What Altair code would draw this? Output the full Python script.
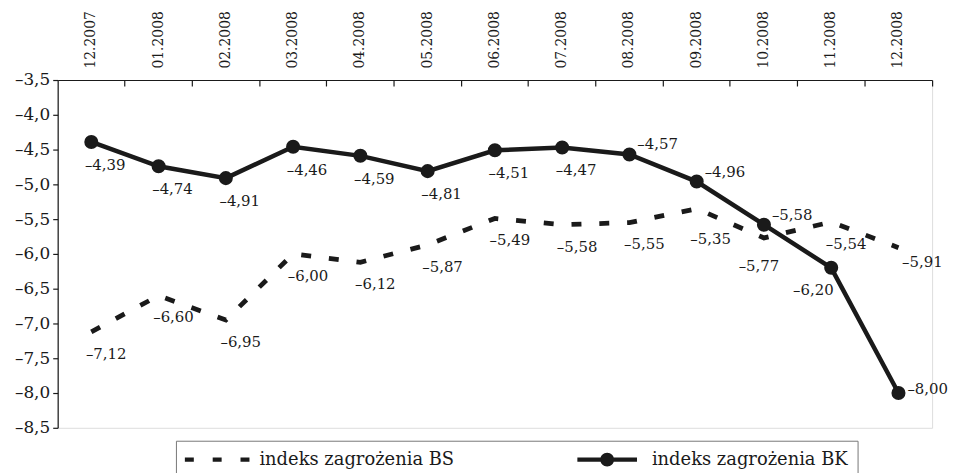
import altair as alt
import pandas as pd

months = ["12.2007", "01.2008", "02.2008", "03.2008", "04.2008", "05.2008", "06.2008",
          "07.2008", "08.2008", "09.2008", "10.2008", "11.2008", "12.2008"]
bs_values = [-7.12, -6.60, -6.95, -6.00, -6.12, -5.87, -5.49, -5.58, -5.55, -5.35, -5.77, -5.54, -5.91]
bk_values = [-4.39, -4.74, -4.91, -4.46, -4.59, -4.81, -4.51, -4.47, -4.57, -4.96, -5.58, -6.20, -8.00]
series_names = ["indeks zagrożenia BS", "indeks zagrożenia BK"]
y_ticks = [-3.5, -4.0, -4.5, -5.0, -5.5, -6.0, -6.5, -7.0, -7.5, -8.0, -8.5]


def fmt(v):
    return "–" + f"{abs(v):.2f}".replace(".", ",")


rows = []
for name, vals in zip(series_names, [bs_values, bk_values]):
    for m, v in zip(months, vals):
        rows.append({"month": m, "value": v, "series": name, "label": fmt(v)})
df = pd.DataFrame(rows)

FONT = "DejaVu Serif"
INK = "#1a1a1a"
W, H = 880, 350
BS, BK = series_names

x_scale = alt.Scale(type="band", domain=months, paddingInner=0, paddingOuter=0)
y_scale = alt.Scale(domain=[-8.5, -3.5], nice=False, zero=False)

x_top = alt.X("month:O", scale=x_scale, sort=months, bandPosition=0.5, title=None,
              axis=alt.Axis(orient="top", labelAngle=-90, ticks=False, tickSize=0, labelPadding=12,
                            labelFont=FONT, labelFontSize=14, labelColor=INK, domainColor=INK,
                            domainWidth=1.2, grid=False))
x_tick_axis = alt.X("month:O", scale=x_scale, sort=months, bandPosition=0.5, title=None,
                    axis=alt.Axis(orient="bottom", offset=-H, labels=False, domain=False, ticks=True,
                                  tickSize=6, tickColor=INK, tickWidth=1.2, bandPosition=1, grid=False))
x_plain = alt.X("month:O", scale=x_scale, sort=months, bandPosition=0.5, title=None, axis=None)

y_enc = alt.Y("value:Q", scale=y_scale, title=None,
              axis=alt.Axis(values=y_ticks, grid=False, tickSize=5, tickColor=INK, tickWidth=1.2,
                            domainColor=INK, domainWidth=1.2, labelPadding=3, labelFont=FONT,
                            labelFontSize=17, labelColor=INK,
                            labelExpr="'–' + replace(format(abs(datum.value), '.1f'), '.', ',')"))

base = alt.Chart(df)

bs_line = base.transform_filter(alt.datum.series == BS).mark_line(
    color=INK, strokeWidth=4.8, strokeDash=[10, 18], strokeCap="butt"
).encode(x=x_top, y=y_enc)

bk_line = base.transform_filter(alt.datum.series == BK).mark_line(
    color=INK, strokeWidth=4.5
).encode(x=x_plain, y=y_enc)

bk_points = base.transform_filter(alt.datum.series == BK).mark_circle(
    color=INK, size=200, opacity=1
).encode(x=x_plain, y=y_enc)


def labels(series, subset, align, dx, dy):
    return base.transform_filter(alt.datum.series == series).transform_filter(
        alt.FieldOneOfPredicate(field="month", oneOf=subset)
    ).mark_text(font=FONT, fontSize=15, color=INK, align=align, baseline="middle", dx=dx, dy=dy
                ).encode(x=x_plain, y=y_enc, text="label:N")


bk_below = months[:8]
bs_special = ["09.2008", "10.2008", "12.2008"]
bs_below = [m for m in months if m not in bs_special]

label_layers = [
    labels(BK, bk_below, "center", 14, 23),
    labels(BK, ["08.2008", "09.2008", "10.2008"], "left", 8, -10),
    labels(BK, ["12.2008"], "left", 9, -4),
    labels(BK, ["11.2008"], "center", -18, 22),
    labels(BS, bs_below, "center", 15, 22),
    labels(BS, ["09.2008"], "center", 14, 31),
    labels(BS, ["10.2008"], "center", -5, 28),
    labels(BS, ["12.2008"], "center", 24, 14),
]

BS_PATH = "M-1,-0.22H-0.1V0.22H-1Z M1.8,-0.22H2.7V0.22H1.8Z M4.6,-0.22H5.5V0.22H4.6Z"
BK_PATH = ("M-1,-0.22H5V0.22H-1Z "
           "M2.7,0A0.7,0.7 0 1,1 1.3,0A0.7,0.7 0 1,1 2.7,0Z")

legend_layer = base.mark_point(filled=True, opacity=0, color=INK).encode(
    x=x_tick_axis,
    y=y_enc,
    shape=alt.Shape(
        "series:N",
        scale=alt.Scale(domain=series_names, range=[BS_PATH, BK_PATH]),
        legend=alt.Legend(
            title=None, orient="none", legendX=119, legendY=363, direction="horizontal",
            symbolSize=400, symbolFillColor=INK, symbolStrokeWidth=0, symbolOpacity=1,
            labelOffset=55, labelFont=FONT, labelFontSize=18, labelColor=INK, labelLimit=0,
            columnPadding=123, padding=9, strokeColor="#777", fillColor="white",
        ),
    ),
)

chart = alt.layer(bs_line, bk_line, bk_points, *label_layers, legend_layer).resolve_axis(
    x="independent"
).properties(
    width=W, height=H,
    autosize=alt.AutoSizeParams(type="none"),
    padding={"left": 50, "top": 71, "right": 16, "bottom": 44},
).configure_view(stroke=None).configure(background="white")

chart.save("out.html", embed_options={"renderer": "svg", "actions": False})
